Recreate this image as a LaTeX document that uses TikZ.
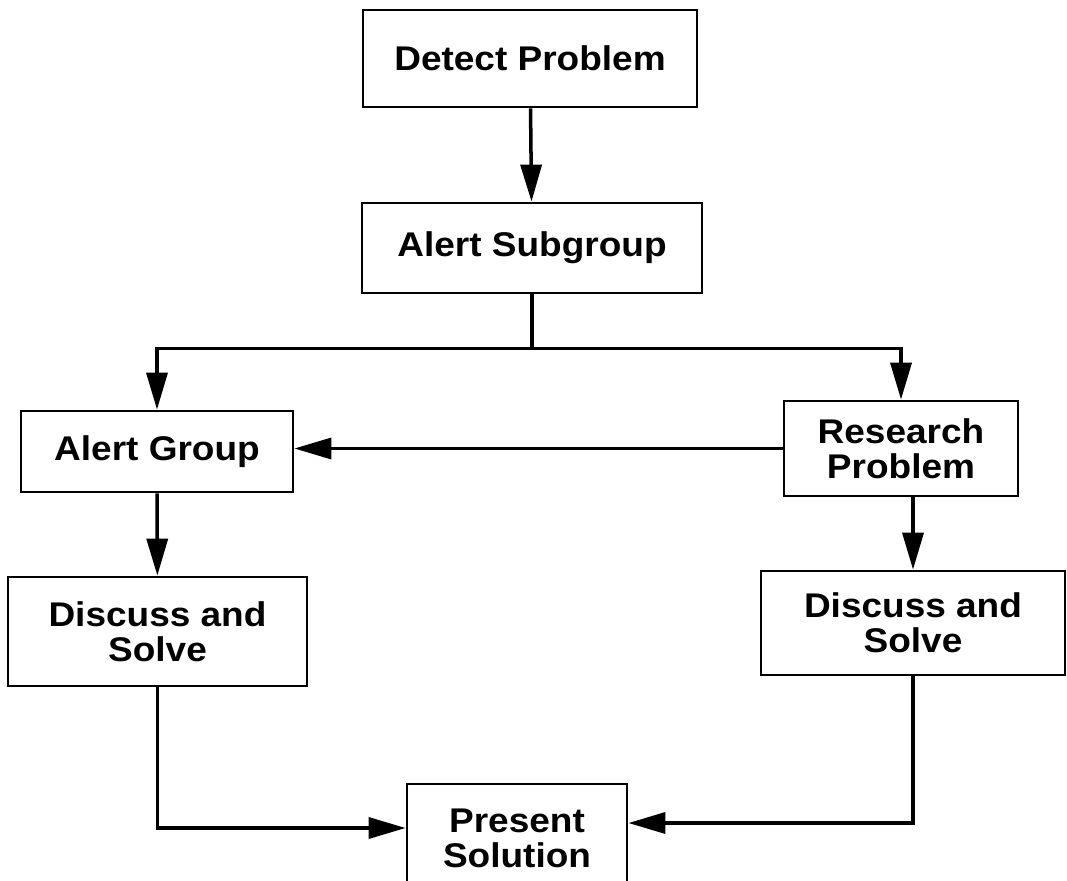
\documentclass[tikz,border=0pt]{standalone}
\usepackage{fontspec}
\newfontfamily\chartfont[FakeStretch=1.08]{Liberation Sans}
\usetikzlibrary{arrows.meta, positioning, calc}

\begin{document}
\begin{tikzpicture}[
		x=0.02cm, y=-0.02cm,
		proc_box/.style = {draw=black, rectangle, line width=1.6pt, align=center,
			inner sep=0pt, font=\chartfont\bfseries\fontsize{19.5}{20}\selectfont},
		line/.style     = {-{Triangle[length=0.74cm, width=0.42cm]}, line width=2pt}
		]
		\useasboundingbox (0,0) rectangle (1067,881);
		
		\node[proc_box, minimum width=6.68cm, minimum height=1.94cm]
		(detect) at (530, 58.5) {Detect Problem};
		\node[proc_box, minimum width=6.80cm, minimum height=1.80cm]
		(subgrp) at (532, 248) {Alert Subgroup};
		\node[proc_box, minimum width=5.44cm, minimum height=1.62cm]
		(algrp) at (157, 451.5) {Alert Group};
		\node[proc_box, minimum width=4.68cm, minimum height=1.90cm]
		(research) at (901, 448.5) {Research\\Problem};
		\node[proc_box, minimum width=5.98cm, minimum height=2.18cm]
		(discL) at (157.5, 631.5) {Discuss and\\Solve};
		\node[proc_box, minimum width=6.08cm, minimum height=2.08cm]
		(discR) at (913, 623) {Discuss and\\Solve};
		% bottom edge runs off the page
		\node[proc_box, minimum width=4.40cm, minimum height=2.16cm]
		(present) at (517, 838) {Present\\Solution};
		
		\draw[line] (detect) -- (subgrp);
		\draw[line] (subgrp.south) -- ++(0,54) -| (algrp.north);
		\draw[line] (subgrp.south) ++(0,54) -| (research.north);
		\draw[line] (research.west) -- (algrp.east |- research.west);
		\draw[line] (algrp) -- (discL);
		\draw[line] (research.south -| discR.north) -- (discR.north);
		\draw[line] (discL.south) |- ([yshift=0.2cm]present.west);
		\draw[line] (discR.south) |- ([yshift=0.3cm]present.east);
	\end{tikzpicture}
\end{document}
